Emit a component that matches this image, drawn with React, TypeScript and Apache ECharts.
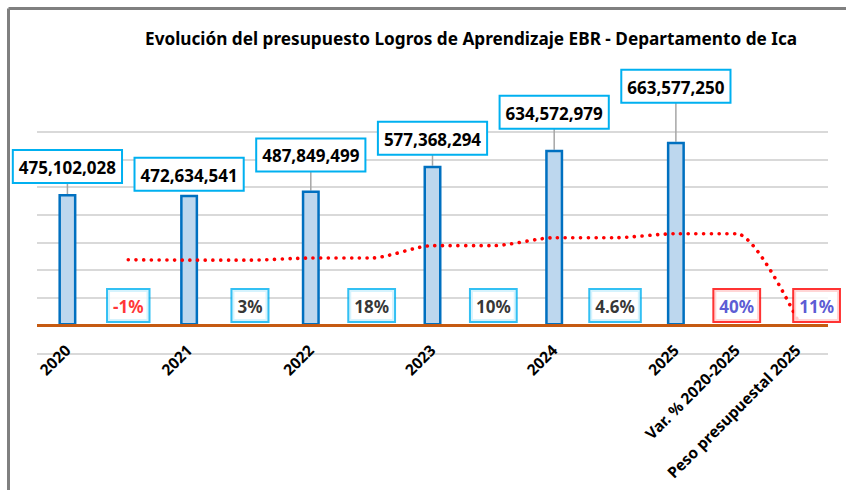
import React, { useEffect, useRef } from "react";
import * as echarts from "echarts";

// ---- data ----
const years = ["2020", "2021", "2022", "2023", "2024", "2025"];
const budgets = [475102028, 472634541, 487849499, 577368294, 634572979, 663577250];
const summaryCategories = ["Var. % 2020-2025", "Peso presupuestal 2025"];
const yearChanges = ["-1%", "3%", "18%", "10%", "4.6%"];
const summaryValues = ["40%", "11%"];
// dotted trend line (secondary axis), one value per category slot from the 2nd slot on
const trendValues = [
  475102028, 472634541, 472634541, 487849499, 487849499, 577368294,
  577368294, 634572979, 634572979, 663577250, 663577250, 40000000,
];

// ---- styles (not data) ----
const labelGaps = [12, 5, 20, 12, 22, 40];
const FONT = "'Noto Sans', sans-serif";

export default function App() {
  const ref = useRef<HTMLDivElement>(null);

  useEffect(() => {
    if (!ref.current) return;
    const chart = echarts.init(ref.current, null, { renderer: "svg" });

    // 13 slots: year, gap, year, gap, ..., 2025, Var, Peso
    const categories: string[] = [];
    years.forEach((y, i) => {
      categories.push(y);
      if (i < years.length - 1) categories.push("");
    });
    summaryCategories.forEach((c) => categories.push(c));
    const n = categories.length;

    const barData: any[] = new Array(n).fill("-");
    budgets.forEach((v, i) => {
      barData[i * 2] = {
        value: v,
        label: { distance: labelGaps[i] },
      };
    });

    const lineData: any[] = ["-", ...trendValues];

    const pctData: any[] = [];
    yearChanges.forEach((t, i) => {
      pctData.push({
        value: [i * 2 + 1, 0],
        name: t,
        label: {
          color: t.startsWith("-") ? "#FF0000" : "#000000",
          borderColor: "#00B0F0",
        },
      });
    });
    summaryValues.forEach((t, i) => {
      pctData.push({
        value: [n - 2 + i, 0],
        name: t,
        label: {
          color: "#3030C8",
          borderColor: "#FF0000",
          offset: i === 1 ? [19, 0] : [0, 0],
        },
      });
    });

    const leaderData = budgets.map((v, i) => [i * 2, v]);

    const boxLabel = {
      fontFamily: FONT,
      fontWeight: "bold" as const,
      fontSize: 17,
      lineHeight: 21,
      backgroundColor: "#FFFFFF",
      borderWidth: 2,
      padding: [6, 5, 4, 5],
    };

    chart.setOption({
      animation: false,
      backgroundColor: "#FFFFFF",
      title: {
        text: "Evolución del presupuesto Logros de Aprendizaje EBR - Departamento de Ica",
        left: 140,
        top: 25,
        textStyle: {
          fontFamily: FONT,
          fontWeight: "bold",
          fontSize: 17.2,
          color: "#000000",
        },
      },
      graphic: [
        {
          type: "line",
          shape: { x1: 8.5, y1: 8.5, x2: 846, y2: 8.5 },
          style: { stroke: "#808080", lineWidth: 3 },
          silent: true,
        },
        {
          type: "line",
          shape: { x1: 8.5, y1: 8.5, x2: 8.5, y2: 490 },
          style: { stroke: "#808080", lineWidth: 3 },
          silent: true,
        },
      ],
      grid: { left: 37, right: 18, top: 131.7, bottom: 136.7, containLabel: false },
      xAxis: {
        type: "category",
        data: categories,
        boundaryGap: true,
        axisLine: { show: false, onZero: false },
        axisTick: { show: false },
        axisLabel: {
          interval: 0,
          rotate: 45,
          margin: -6,
          fontFamily: FONT,
          fontWeight: "bold",
          fontSize: 15.5,
          color: "#000000",
        },
        splitLine: { show: false },
      },
      yAxis: [
        {
          type: "value",
          min: -100000000,
          max: 700000000,
          interval: 100000000,
          axisLabel: { show: false },
          axisLine: { show: false },
          axisTick: { show: false },
          splitLine: { lineStyle: { color: "#D9D9D9", width: 2 } },
        },
        {
          type: "value",
          min: -200000000,
          max: 1400000000,
          interval: 200000000,
          axisLabel: { show: false },
          axisLine: { show: false },
          axisTick: { show: false },
          splitLine: { show: false },
        },
      ],
      series: [
        {
          type: "custom",
          xAxisIndex: 0,
          yAxisIndex: 0,
          z: 1,
          silent: true,
          data: leaderData,
          renderItem: (params: any, api: any) => {
            const p = api.coord([api.value(0), api.value(1)]);
            const gap = labelGaps[params.dataIndex];
            if (gap < 8) return { type: "group", children: [] };
            return {
              type: "line",
              shape: { x1: p[0], y1: p[1], x2: p[0], y2: p[1] - gap },
              style: { stroke: "#A6A6A6", lineWidth: 1.5 },
            };
          },
        },
        {
          type: "bar",
          yAxisIndex: 0,
          z: 2,
          barWidth: 18,
          data: barData,
          itemStyle: {
            color: "#BDD7EE",
            borderColor: "#0070C0",
            borderWidth: 2.5,
          },
          label: {
            show: true,
            position: "top",
            color: "#000000",
            borderColor: "#00B0F0",
            formatter: (p: any) => Number(p.value).toLocaleString("en-US"),
            ...boxLabel,
          },
          markLine: {
            silent: true,
            symbol: ["none", "none"],
            label: { show: false },
            lineStyle: { color: "#C55A11", width: 3, type: "solid" },
            data: [{ yAxis: 0 }],
          },
        },
        {
          type: "line",
          yAxisIndex: 1,
          z: 3,
          data: lineData,
          smooth: 0.25,
          symbol: "none",
          silent: true,
          lineStyle: {
            color: "#FF0000",
            width: 3.6,
            type: [0.1, 7.6],
            cap: "round",
          },
        },
        {
          type: "scatter",
          yAxisIndex: 0,
          z: 4,
          symbolSize: 1,
          itemStyle: { color: "rgba(0,0,0,0)" },
          data: pctData,
          silent: true,
          label: {
            show: true,
            position: "top",
            distance: 4,
            formatter: (p: any) => p.name,
            ...boxLabel,
          },
        },
      ],
    });

    return () => chart.dispose();
  }, []);

  return (
    <div
      ref={ref}
      style={{ position: "fixed", left: 0, top: 0, width: 846, height: 490 }}
    />
  );
}
